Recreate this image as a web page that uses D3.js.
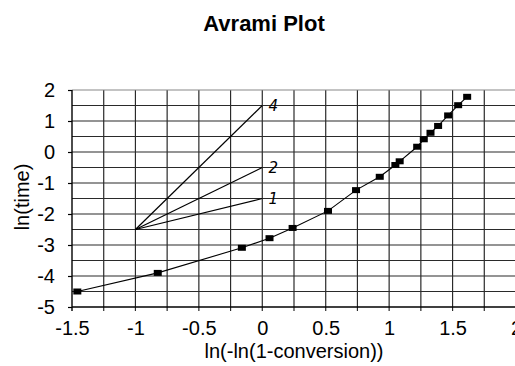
<!DOCTYPE html>
<html>
<head>
<meta charset="utf-8">
<script src="https://cdn.jsdelivr.net/npm/d3@7"></script>
<style>
  body { margin: 0; background: #fff; }
  svg { display: block; font-family: "Liberation Sans", Arial, sans-serif; }
</style>
</head>
<body>
<svg id="chart"></svg>
<script>
// measured points: ln(-ln(1-conversion)) vs ln(time)
var lnConv = [-1.458, -0.824, -0.161, 0.057, 0.239, 0.518, 0.739, 0.926, 1.049, 1.083, 1.221, 1.273, 1.326, 1.386, 1.465, 1.544, 1.615];
var lnTime = [-4.50, -3.90, -3.09, -2.78, -2.45, -1.90, -1.23, -0.80, -0.42, -0.30, 0.17, 0.41, 0.62, 0.84, 1.18, 1.51, 1.78];

// hand-drawn reference slopes, all from (-1, -2.5) to x = 0
var slopeNames = ["1", "2", "4"];
var slopeOrigin = [-1, -2.5];
var slopeEnds = [-1.5, -0.5, 1.5];

var xTicks = [-1.5, -1, -0.5, 0, 0.5, 1, 1.5, 2];
var yTicks = [2, 1, 0, -1, -2, -3, -4, -5];

var width = 515, height = 366;
var margin = { top: 90, right: -1, bottom: 59, left: 72 };

var svg = d3.select("#chart")
    .attr("width", width)
    .attr("height", height);

var x = d3.scaleLinear()
    .domain([-1.5, 2])
    .range([margin.left, width - margin.right]);

var y = d3.scaleLinear()
    .domain([-5, 2])
    .range([height - margin.bottom, margin.top]);

// plain hyphen for negatives, like the original
var fmt = d => String(d);

// grid
svg.append("g")
    .selectAll("line")
    .data(d3.range(-1.25, 2.01, 0.25))
    .join("line")
    .attr("x1", d => x(d)).attr("x2", d => x(d))
    .attr("y1", y(2)).attr("y2", y(-5) + 4)
    .attr("stroke", "#2a2a2a")
    .attr("stroke-width", 1.2);

svg.append("g")
    .selectAll("line")
    .data(d3.range(-4.5, 2.01, 0.5))
    .join("line")
    .attr("x1", x(-1.5)).attr("x2", x(2))
    .attr("y1", d => y(d)).attr("y2", d => y(d))
    .attr("stroke", d => d == 2 ? "#888" : "#2a2a2a")
    .attr("stroke-width", 1.2);

// axes
var xAxis = g => g
    .attr("transform", `translate(0,${y(-5)})`)
    .call(d3.axisBottom(x).tickValues(xTicks).tickSize(0).tickPadding(14).tickFormat(fmt))
    .call(g => g.select(".domain").remove())
    .call(g => g.selectAll("text").attr("font-size", 20).attr("fill", "#000").attr("font-family", "Liberation Sans, Arial, sans-serif"));
svg.append("g").call(xAxis);

var yAxis = g => g
    .attr("transform", `translate(${x(-1.5)},0)`)
    .call(d3.axisLeft(y).tickValues(yTicks).tickSize(4).tickPadding(13).tickFormat(fmt))
    .call(g => g.select(".domain").remove())
    .call(g => g.selectAll(".tick line").attr("stroke", "#000").attr("stroke-width", 1.2))
    .call(g => g.selectAll("text").attr("font-size", 20).attr("fill", "#000").attr("font-family", "Liberation Sans, Arial, sans-serif"));
svg.append("g").call(yAxis);

svg.append("line")
    .attr("x1", x(-1.5)).attr("x2", x(-1.5))
    .attr("y1", y(2)).attr("y2", y(-5) + 4)
    .attr("stroke", "#000").attr("stroke-width", 1.4);
svg.append("line")
    .attr("x1", x(-1.5)).attr("x2", x(2))
    .attr("y1", y(-5)).attr("y2", y(-5))
    .attr("stroke", "#000").attr("stroke-width", 1.4);

// slope lines
svg.append("g")
    .selectAll("line")
    .data(slopeEnds)
    .join("line")
    .attr("x1", x(slopeOrigin[0])).attr("y1", y(slopeOrigin[1]))
    .attr("x2", x(0)).attr("y2", d => y(d))
    .attr("stroke", "#000")
    .attr("stroke-width", 1.2);

svg.append("g")
    .selectAll("text")
    .data(slopeEnds)
    .join("text")
    .attr("x", x(0) + 11)
    .attr("y", d => y(d) + 5)
    .attr("text-anchor", "middle")
    .attr("font-family", "DejaVu Sans, sans-serif")
    .attr("font-size", 15)
    .attr("font-style", "italic")
    .text((d, i) => slopeNames[i]);

// data line and markers
var data = lnConv.map((v, i) => ({ c: v, t: lnTime[i] }));

var line = d3.line()
    .x(d => x(d.c))
    .y(d => y(d.t));

svg.append("path")
    .datum(data)
    .attr("fill", "none")
    .attr("stroke", "#000")
    .attr("stroke-width", 1.1)
    .attr("d", line);

svg.append("g")
    .selectAll("rect")
    .data(data)
    .join("rect")
    .attr("x", d => x(d.c) - 4)
    .attr("y", d => y(d.t) - 3)
    .attr("width", 8)
    .attr("height", 6)
    .attr("fill", "#000");

// titles
svg.append("text")
    .attr("x", 264)
    .attr("y", 31)
    .attr("text-anchor", "middle")
    .attr("font-size", 22)
    .attr("font-weight", "bold")
    .text("Avrami Plot");

svg.append("text")
    .attr("x", 294)
    .attr("y", 358)
    .attr("text-anchor", "middle")
    .attr("font-size", 20)
    .text("ln(-ln(1-conversion))");

svg.append("text")
    .attr("transform", "translate(29,197) rotate(-90)")
    .attr("text-anchor", "middle")
    .attr("font-size", 20)
    .text("ln(time)");
</script>
</body>
</html>
